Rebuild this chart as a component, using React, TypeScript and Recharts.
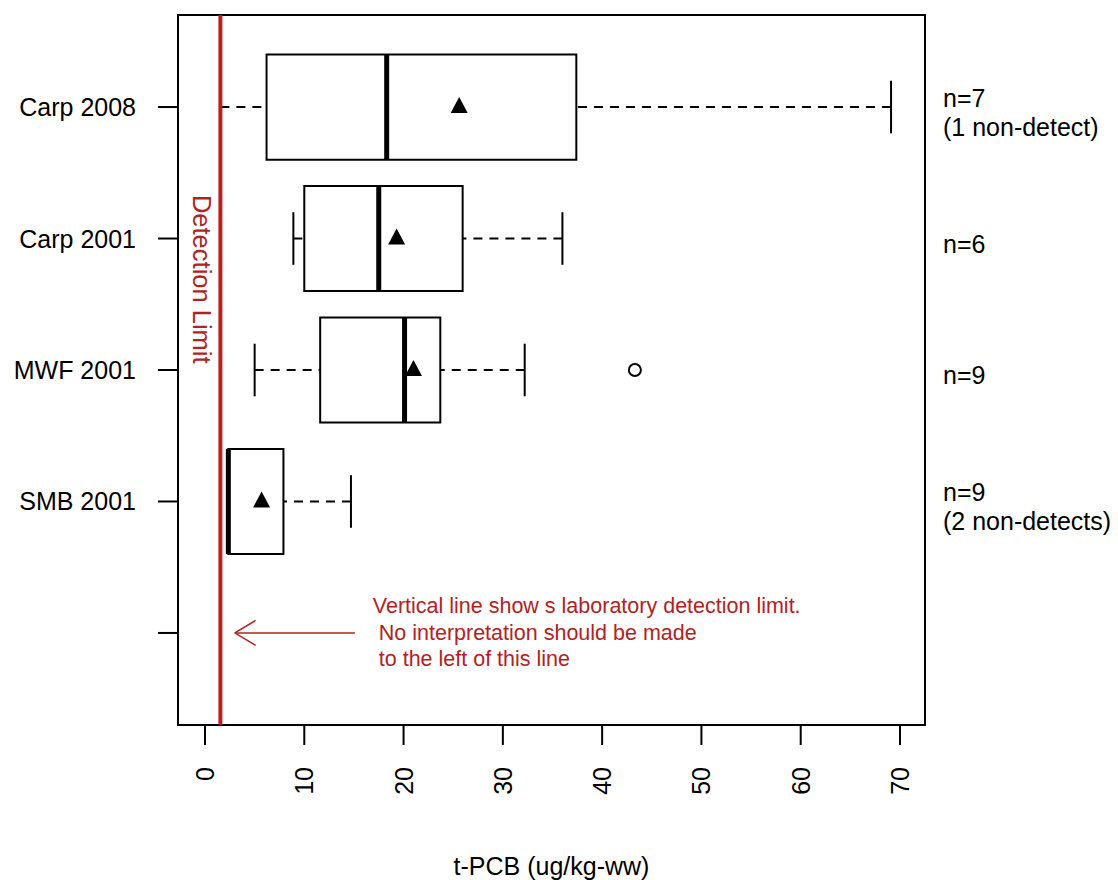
import React from 'react';
import { ComposedChart, XAxis, YAxis, ReferenceArea, ReferenceLine, Scatter } from 'recharts';

const FONT = '"Liberation Sans", Arial, sans-serif';
const RED = '#B22222';
const FS = 25;

// box statistics, bottom to top (positions 2..5, position 1 is left empty)
const boxNames = ['SMB 2001', 'MWF 2001', 'Carp 2001', 'Carp 2008'];
const boxPos = [2, 3, 4, 5];
const mins = [2.35, 5.0, 8.9, 1.55];
const q1s = [2.35, 11.6, 10.0, 6.2];
const medians = [2.35, 20.1, 17.5, 18.3];
const q3s = [7.9, 23.7, 25.95, 37.4];
const maxs = [14.7, 32.2, 36.0, 69.1];
const means = [5.7, 21.0, 19.3, 25.6];
const outliers = [{ x: 43.3, y: 3 }];
const sampleNotes = [['n=9', '(2 non-detects)'], ['n=9'], ['n=6'], ['n=7', '(1 non-detect)']];

const detectionLimit = 1.55;
const detectionLabel = [{ x: -0.35, y: 3.69, text: 'Detection Limit' }];
const noteLines = [
  'Vertical line show s laboratory detection limit.',
  ' No interpretation should be made',
  ' to the left of this line',
];
const noteAnchor = [{ x: 16.9, y: 1 }];
const arrowFrom = 15.1;
const arrowTo = 3.0;

const xTicks = [0, 10, 20, 30, 40, 50, 60, 70];
const yTicks = [1, 2, 3, 4, 5];
const yLabels = ['', ...boxNames];
const xDomain = [-2.72, 72.52];
const yDomain = [0.3, 5.7];

const BOX_HALF = 0.4;
const CAP_HALF = 0.2;

const meanPoints = means.map((m, i) => ({ x: m, y: boxPos[i] }));

const XTick = (props: any) => {
  const { x, y, payload } = props;
  return (
    <text x={x} y={y} transform={`rotate(-90 ${x} ${y})`} textAnchor="end" dominantBaseline="central"
      fontSize={FS} fontFamily={FONT} fill="#000">{payload.value}</text>
  );
};

const YTick = (props: any) => {
  const { x, y, payload } = props;
  return (
    <text x={x} y={y} textAnchor="end" dominantBaseline="central" fontSize={FS} fontFamily={FONT} fill="#000">
      {yLabels[payload.value - 1]}
    </text>
  );
};

const NTick = (props: any) => {
  const { x, y, payload } = props;
  const lines = sampleNotes[payload.value - 2] || [];
  const top = y + 5 - ((lines.length - 1) * 29) / 2;
  return (
    <text x={x} y={top} textAnchor="start" dominantBaseline="central" fontSize={FS} fontFamily={FONT} fill="#000">
      {lines.map((l, i) => (
        <tspan key={i} x={x} dy={i === 0 ? 0 : 29}>{l}</tspan>
      ))}
    </text>
  );
};

const Triangle = (props: any) => {
  const { cx, cy } = props;
  return <polygon points={`${cx},${cy - 10} ${cx - 8.5},${cy + 6} ${cx + 8.5},${cy + 6}`} fill="#000" />;
};

const OpenCircle = (props: any) => <circle cx={props.cx} cy={props.cy} r={6} fill="#fff" stroke="#000" strokeWidth={2} />;

const DetectionText = (props: any) => {
  const { cx, cy, payload } = props;
  return (
    <text x={cx} y={cy} transform={`rotate(90 ${cx} ${cy})`} textAnchor="middle" dominantBaseline="central"
      fontSize={25.5} fontFamily={FONT} fill={RED}>{payload.text}</text>
  );
};

const NoteText = (props: any) => {
  const { cx, cy } = props;
  const top = cy - 26.5;
  return (
    <text x={cx} y={top} dominantBaseline="central" fontSize={21.5} fontFamily={FONT} fill={RED}
      style={{ whiteSpace: 'pre' }}>
      {noteLines.map((l, i) => (
        <tspan key={i} x={cx} dy={i === 0 ? 0 : 26.5}>{l}</tspan>
      ))}
    </text>
  );
};

export default function App() {
  return (
    <div style={{ position: 'absolute', left: 0, top: 0, fontFamily: FONT }}>
      <ComposedChart width={1118} height={880} margin={{ top: 15, right: 0, bottom: 0, left: 0 }}>
        <XAxis type="number" dataKey="x" domain={xDomain} ticks={xTicks} allowDataOverflow
          height={155} tickSize={20} tickMargin={22} axisLine={false}
          tickLine={{ stroke: '#000', strokeWidth: 2 }} tick={<XTick />}
          label={{ value: 't-PCB (ug/kg-ww)', position: 'insideBottom', offset: 5, fontSize: FS, fill: '#000', fontFamily: FONT }} />
        <YAxis type="number" dataKey="y" domain={yDomain} ticks={yTicks} allowDataOverflow
          width={178} tickSize={20} tickMargin={22} axisLine={false}
          tickLine={{ stroke: '#000', strokeWidth: 2 }} tick={<YTick />} />
        <YAxis yAxisId="n" orientation="right" type="number" domain={yDomain} ticks={[2, 3, 4, 5]} allowDataOverflow
          width={193} tickSize={0} tickMargin={18} axisLine={false} tickLine={false} tick={<NTick />} />

        {/* whiskers */}
        {boxPos.map((p, i) => (
          <ReferenceLine key={`wl${i}`} segment={[{ x: mins[i], y: p }, { x: q1s[i], y: p }]}
            stroke="#000" strokeWidth={2} strokeDasharray="9 7" />
        ))}
        {boxPos.map((p, i) => (
          <ReferenceLine key={`wh${i}`} segment={[{ x: maxs[i], y: p }, { x: q3s[i], y: p }]}
            stroke="#000" strokeWidth={2} strokeDasharray="9 7" />
        ))}
        {boxPos.map((p, i) => (
          <ReferenceLine key={`cl${i}`} segment={[{ x: mins[i], y: p - CAP_HALF }, { x: mins[i], y: p + CAP_HALF }]}
            stroke="#000" strokeWidth={2} />
        ))}
        {boxPos.map((p, i) => (
          <ReferenceLine key={`ch${i}`} segment={[{ x: maxs[i], y: p - CAP_HALF }, { x: maxs[i], y: p + CAP_HALF }]}
            stroke="#000" strokeWidth={2} />
        ))}

        {/* boxes and medians */}
        {boxPos.map((p, i) => (
          <ReferenceArea key={`b${i}`} x1={q1s[i]} x2={q3s[i]} y1={p - BOX_HALF} y2={p + BOX_HALF}
            fill="#fff" fillOpacity={1} stroke="#000" strokeWidth={2} />
        ))}
        {boxPos.map((p, i) => (
          <ReferenceLine key={`m${i}`} segment={[{ x: medians[i], y: p - BOX_HALF }, { x: medians[i], y: p + BOX_HALF }]}
            stroke="#000" strokeWidth={5} />
        ))}

        <Scatter data={meanPoints} shape={<Triangle />} isAnimationActive={false} />
        <Scatter data={outliers} shape={<OpenCircle />} isAnimationActive={false} />

        {/* detection limit, drawn over the whisker ends */}
        <ReferenceLine x={detectionLimit} stroke={RED} strokeWidth={4} />
        <Scatter data={detectionLabel} shape={<DetectionText />} isAnimationActive={false} />

        {/* note with arrow */}
        <ReferenceLine segment={[{ x: arrowFrom, y: 1 }, { x: arrowTo, y: 1 }]} stroke={RED} strokeWidth={1.5} />
        <ReferenceLine segment={[{ x: arrowTo, y: 1 }, { x: arrowTo + 2.1, y: 1.095 }]} stroke={RED} strokeWidth={1.5} />
        <ReferenceLine segment={[{ x: arrowTo, y: 1 }, { x: arrowTo + 2.1, y: 0.905 }]} stroke={RED} strokeWidth={1.5} />
        <Scatter data={noteAnchor} shape={<NoteText />} isAnimationActive={false} />

        {/* plot frame */}
        <ReferenceArea x1={xDomain[0]} x2={xDomain[1]} y1={yDomain[0]} y2={yDomain[1]} ifOverflow="visible"
          fill="none" stroke="#000" strokeWidth={2} />
      </ComposedChart>
    </div>
  );
}
